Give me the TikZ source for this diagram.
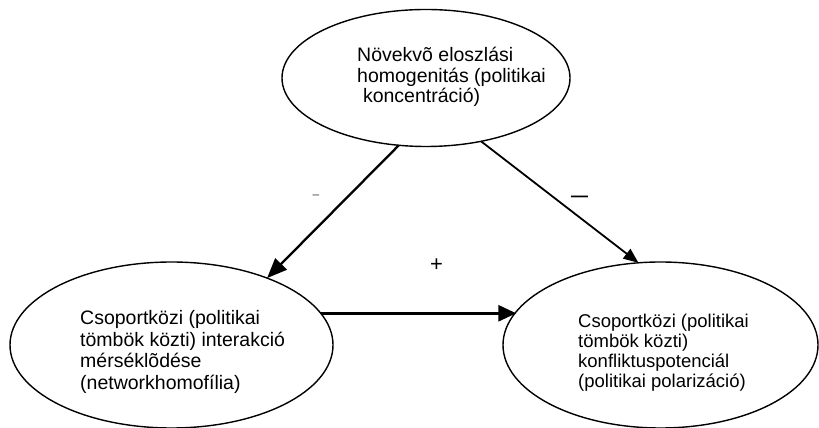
\documentclass[tikz,border=0pt]{standalone}
\usepackage{fontspec}
\setmainfont{Liberation Sans}
\usetikzlibrary{arrows.meta,shapes.geometric}
\begin{document}
\begin{tikzpicture}[x=1pt,y=1pt,
  oval/.style={draw, ellipse, line width=1.4pt, inner sep=0pt, outer sep=0pt},
  lbl/.style={anchor=west, align=left, inner sep=0pt},
  sign/.style={inner sep=0pt}]
\useasboundingbox (0,0) rectangle (819,428);
\node[oval, minimum width=288pt, minimum height=137pt] (top) at (426,350) {};
\node[oval, minimum width=323pt, minimum height=166pt] (left) at (171.5,83) {};
\node[oval, minimum width=315pt, minimum height=166pt] (right) at (660.5,83) {};
\node[lbl, font=\fontsize{19.5}{20.8}\selectfont] (toptext) at (357,351)
  {Növekvõ eloszlási\\homogenitás (politikai\\\hspace*{0.3em}koncentráció)};
\node[lbl, font=\fontsize{19.5}{21.7}\selectfont] (lefttext) at (80,76)
  {Csoportközi (politikai\\tömbök közti) interakció\\mérséklõdése\\(networkhomofília)};
\node[lbl, font=\fontsize{18.5}{20}\selectfont] (righttext) at (578,75)
  {Csoportközi (politikai\\tömbök közti)\\konfliktuspotenciál\\(politikai polarizáció)};
\coordinate (hstart) at (left.12.1);
\draw[-{Triangle[length=20pt,width=16pt]}, line width=2.3pt] (top.248.8) -- (left.35);
\draw[-{Triangle[length=15pt,width=12pt]}, line width=1.8pt] (top.311.4) -- (right.105.2);
\draw[-{Triangle[length=18pt,width=16pt]}, line width=3pt] (hstart) -- (hstart -| right.167.6);
\node[sign, font=\fontsize{12}{12}\selectfont, text=black!75] (minusa) at (316,231) {–};
\node[sign, font=\bfseries\fontsize{17}{17}\selectfont] (minusb) at (579.5,229) {—};
\node[sign, font=\fontsize{22}{22}\selectfont] (plus) at (436.5,163) {+};
\end{tikzpicture}
\end{document}
